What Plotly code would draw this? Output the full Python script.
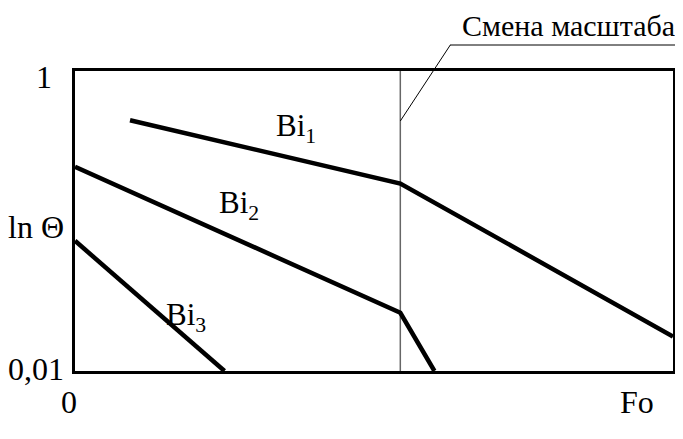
import plotly.graph_objects as go

# data coordinates: Fo on [0, 10], ln(Theta) on [0, 10] (0 -> 0,01, 10 -> 1)
bi1_x = [0.92, 5.44, 10.0]
bi1_y = [8.36, 6.25, 1.15]
bi2_x = [0.0, 5.44, 6.01]
bi2_y = [6.81, 1.94, 0.0]
bi3_x = [0.0, 2.50]
bi3_y = [4.34, 0.0]
scale_change_x = 5.44

series_names = ["Bi<sub>1</sub>", "Bi<sub>2</sub>", "Bi<sub>3</sub>"]
label_x = [3.7, 2.75, 1.85]
label_y = [8.1, 5.55, 1.8]

FONT = "Liberation Serif"

# plot box in pixels
L, R, T, B = 67, 665, 63, 363
W, H = R - L, B - T


def px(xpix):
    return (xpix - L) / W


def py(ypix):
    return (B - ypix) / H


fig = go.Figure()

fig.add_trace(go.Scatter(x=[scale_change_x, scale_change_x], y=[0, 10], mode="lines",
                         line=dict(color="#666666", width=1.5), hoverinfo="skip"))

for xs, ys in [(bi1_x, bi1_y), (bi2_x, bi2_y), (bi3_x, bi3_y)]:
    fig.add_trace(go.Scatter(x=xs, y=ys, mode="lines",
                             line=dict(color="black", width=4.5), hoverinfo="skip"))

font = dict(size=32, color="black", family=FONT)

for name, lx, ly in zip(series_names, label_x, label_y):
    fig.add_annotation(x=lx, y=ly, xref="x", yref="y", text=name, showarrow=False,
                       font=dict(size=31, color="black", family=FONT))

# axis labels
fig.add_annotation(x=-0.035, y=1.0, xref="paper", yref="paper", text="1", showarrow=False,
                   xanchor="right", yanchor="middle", yshift=-6, font=font)
fig.add_annotation(x=-0.015, y=0.0, xref="paper", yref="paper", text="0,01", showarrow=False,
                   xanchor="right", yanchor="middle", yshift=2, font=font)
fig.add_annotation(x=-0.015, y=0.48, xref="paper", yref="paper", text="ln Θ", showarrow=False,
                   xanchor="right", yanchor="middle", font=font)
fig.add_annotation(x=-0.01, y=-0.035, xref="paper", yref="paper", text="0", showarrow=False,
                   xanchor="center", yanchor="top", font=font)
fig.add_annotation(x=0.94, y=-0.035, xref="paper", yref="paper", text="Fo", showarrow=False,
                   xanchor="center", yanchor="top", font=font)

# "Смена масштаба" callout: text, underline and leader to the vertical line
fig.add_annotation(x=px(452), y=py(17), xref="paper", yref="paper", text="Смена масштаба",
                   showarrow=False, xanchor="left", yanchor="middle",
                   font=dict(size=30, color="black", family=FONT))
fig.add_shape(type="line", xref="paper", yref="paper", x0=px(442), x1=px(683),
              y0=py(37), y1=py(37), line=dict(color="black", width=1))
fig.add_shape(type="line", xref="x", yref="paper", x0=scale_change_x, y0=py(113),
              x1=scale_change_x + (442 - 392) / W * 10, y1=py(37),
              line=dict(color="black", width=1))

fig.update_layout(
    width=683, height=439,
    margin=dict(l=L, r=683 - R, t=T, b=439 - B),
    paper_bgcolor="white", plot_bgcolor="white",
    showlegend=False,
    xaxis=dict(range=[0, 10], showgrid=False, zeroline=False, showticklabels=False,
               ticks="", showline=True, mirror=True, linecolor="black", linewidth=3),
    yaxis=dict(range=[0, 10], showgrid=False, zeroline=False, showticklabels=False,
               ticks="", showline=True, mirror=True, linecolor="black", linewidth=3),
)

fig.write_html("out.html")
